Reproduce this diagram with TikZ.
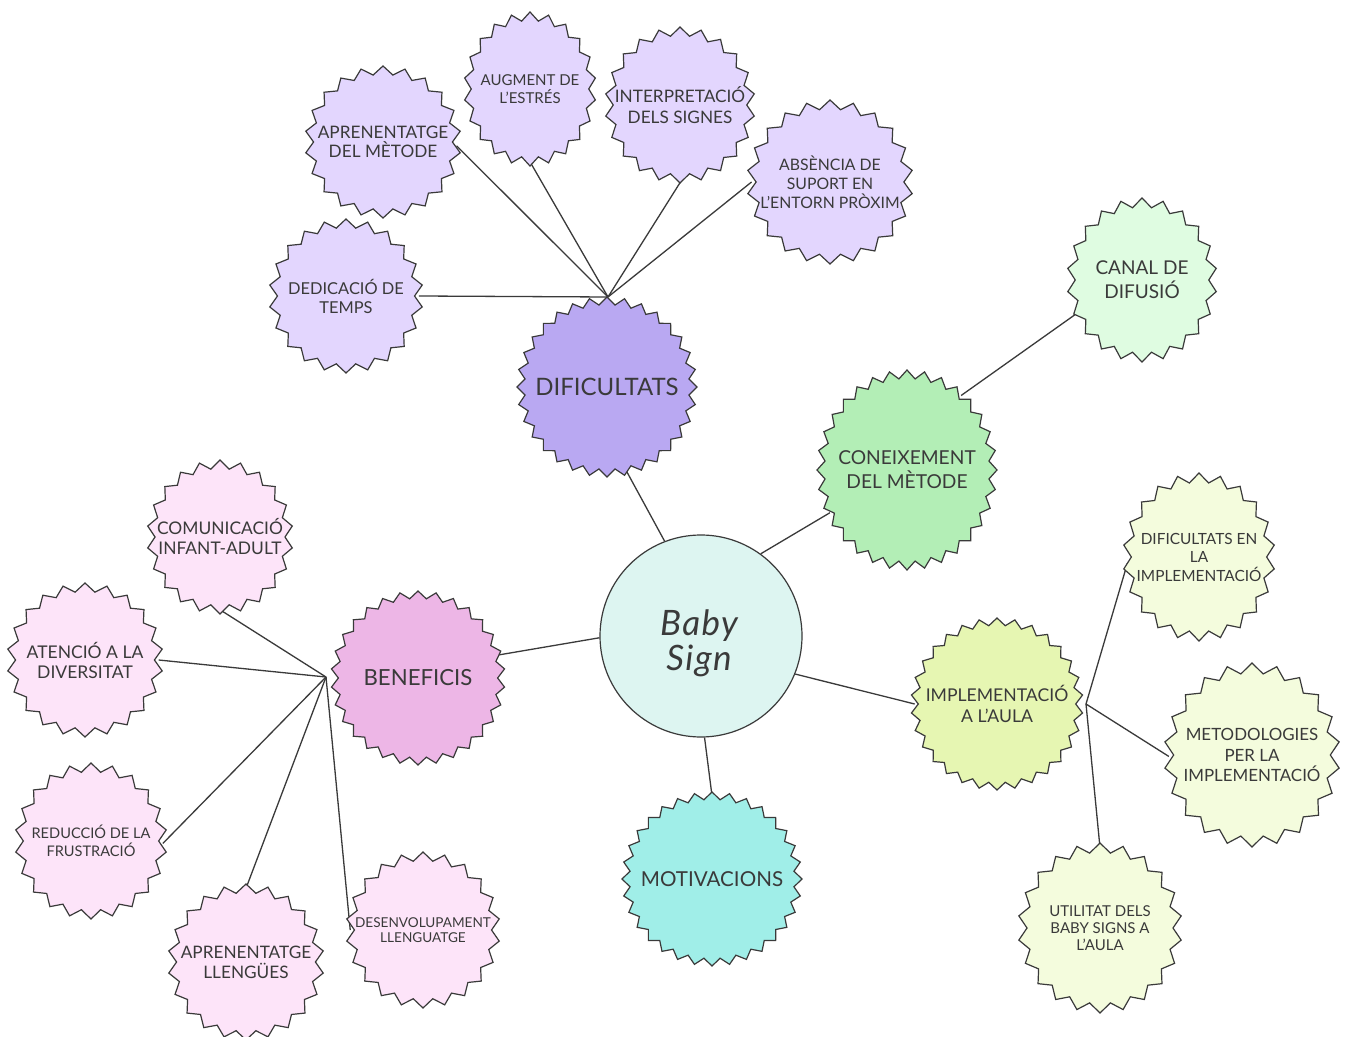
\documentclass[tikz,border=0pt]{standalone}
\usepackage{fontspec}
\setmainfont{Lato}
\usetikzlibrary{shapes.geometric}
\pgfdeclarelayer{bg}
\pgfsetlayers{bg,main}
\definecolor{purD}{HTML}{B9A8F2}
\definecolor{purL}{HTML}{E3D6FE}
\definecolor{grnD}{HTML}{B3EEB6}
\definecolor{grnL}{HTML}{DFFCE1}
\definecolor{yelD}{HTML}{E6F6B2}
\definecolor{yelL}{HTML}{F4FCDD}
\definecolor{cyaD}{HTML}{A0EEE8}
\definecolor{pnkD}{HTML}{EDB6E6}
\definecolor{pnkL}{HTML}{FDE4F9}
\definecolor{babyC}{HTML}{DDF5F1}
\definecolor{inkC}{HTML}{3A3A3A}
\tikzset{
  burstline/.style={draw=inkC, line width=0.6pt, line join=miter},
  hit/.style={ellipse, draw=none, inner sep=0pt, outer sep=0pt},
  lbl/.style={align=center, text=inkC, inner sep=0pt},
  conn/.style={draw=inkC, line width=0.65pt},
}
\newcommand\fsz[2]{\fontsize{#1}{#2}\selectfont}
\def\bd{0.1}
% name, cx, cy, rx, ry, n, fill, font, text
\newcommand\burst[9]{%
  \pgfmathtruncatemacro\bns{2*#6+1}%
  \pgfmathtruncatemacro\bnn{2*#6}%
  \filldraw[burstline, fill=#7] plot[samples=\bns, domain=0:\bnn, variable=\t]
    ({#2+#4*(1-\bd*mod(round(\t),2))*cos(\t*180/#6+90)},
     {#3+#5*(1-\bd*mod(round(\t),2))*sin(\t*180/#6+90)}) -- cycle;
  \node[hit, minimum width={#4*(1-\bd/2)*1pt}, minimum height={#5*(1-\bd/2)*1pt}] (#1) at (#2,#3) {};
  \node[lbl, font=#8] (#1t) at (#2,#3) {#9};
}
\begin{document}
\begin{tikzpicture}[x=0.5pt, y=-0.5pt]
\useasboundingbox (0,0) rectangle (1349,1037);
\clip (0,0) rectangle (1349,1037);
\begin{pgfonlayer}{bg}
\fill[white] (0,0) rectangle (1349,1037);
\end{pgfonlayer}

% ---- small bursts
\def\bd{0.11}
\burst{aprm}{383}{142}{78}{76}{22}{purL}{\fsz{8.6}{9.75}}{APRENENTATGE\\DEL MÈTODE}
\burst{aug}{530}{89}{66}{77}{22}{purL}{\fsz{7.5}{9}}{AUGMENT DE\\L’ESTRÉS}
\burst{interp}{680}{105}{75}{78}{22}{purL}{\fsz{8.6}{10.5}}{INTERPRETACIÓ\\DELS SIGNES}
\burst{abs}{830}{182}{83}{82}{22}{purL}{\fsz{7.9}{9.5}}{ABSÈNCIA DE\\SUPORT EN\\L’ENTORN PRÒXIM}
\burst{ded}{346}{296}{77}{77}{22}{purL}{\fsz{8.2}{9.5}}{DEDICACIÓ DE\\TEMPS}
\burst{canal}{1142}{280}{75}{82}{22}{grnL}{\fsz{9.5}{12}}{CANAL DE\\DIFUSIÓ}
\burst{dimp}{1199}{557}{76}{84}{22}{yelL}{\fsz{7.7}{9.25}}{DIFICULTATS EN\\LA\\IMPLEMENTACIÓ}
\burst{meto}{1252}{755}{88}{92}{22}{yelL}{\fsz{8.45}{10.25}}{METODOLOGIES\\PER LA\\IMPLEMENTACIÓ}
\burst{util}{1100}{928}{82}{85}{22}{yelL}{\fsz{7.5}{8.5}}{UTILITAT DELS\\BABY SIGNS A\\L’AULA}
\burst{com}{220}{537}{73}{77}{22}{pnkL}{\fsz{8.7}{10}}{COMUNICACIÓ\\INFANT-ADULT}
\burst{aten}{85}{660}{78}{77}{22}{pnkL}{\fsz{8.75}{10}}{ATENCIÓ A LA\\DIVERSITAT}
\burst{red}{91}{841}{76}{78}{22}{pnkL}{\fsz{7.3}{9}}{REDUCCIÓ DE LA\\FRUSTRACIÓ}
\burst{apl}{246}{962}{78}{78}{22}{pnkL}{\fsz{8.6}{10}}{APRENENTATGE\\LLENGÜES}
\burst{desv}{423}{930}{77}{78}{22}{pnkL}{\fsz{6.8}{7.5}}{DESENVOLUPAMENT\\LLENGUATGE}

% ---- big bursts
\def\bd{0.085}
\burst{dif}{607}{387}{90}{90}{32}{purD}{\fsz{12}{14}}{DIFICULTATS}
\burst{con}{907}{470}{90}{100}{32}{grnD}{\fsz{9.6}{12}}{CONEIXEMENT\\DEL MÈTODE}
\burst{impl}{997}{704}{86}{86}{30}{yelD}{\fsz{8.8}{10.5}}{IMPLEMENTACIÓ\\A L’AULA}
\burst{mot}{712}{879}{90}{87}{32}{cyaD}{\fsz{10.3}{13}}{MOTIVACIONS}
\burst{ben}{418}{678}{87}{87}{30}{pnkD}{\fsz{11.1}{13}}{BENEFICIS}

% ---- centre
\node[circle, draw=inkC, line width=0.6pt, fill=babyC, minimum size=101pt, inner sep=0pt] (baby) at (701,636) {};
\node[lbl, font={\itshape\fsz{17.5}{17.5}\addfontfeatures{LetterSpace=4}}] (babyt) at (699,643) {Baby\\Sign};

% ---- hubs
\coordinate (hubD) at (608,297);
\coordinate (hubB) at (326,677);
\coordinate (hubI) at (1086,704);

\begin{pgfonlayer}{bg}
\draw[conn] (hubD) -- (aprm.-3);
\draw[conn] (hubD) -- (aug.-90);
\draw[conn] (hubD) -- (interp.-88);
\draw[conn] (hubD) -- (abs.180);
\draw[conn] (hubD) -- (ded.0);
\draw[conn] (dif.-77) -- (baby.111);
\draw[conn] (baby.54) -- (con.209);
\draw[conn] (con.54) -- (canal.207);
\draw[conn] (baby.-22) -- (impl.180);
\draw[conn] (baby.-88) -- (mot.90);
\draw[conn] (baby.181) -- (ben.16);
\draw[conn] (hubI) -- (dimp.185);
\draw[conn] (hubI) -- (meto.181);
\draw[conn] (hubI) -- (util.90);
\draw[conn] (hubB) -- (com.-90);
\draw[conn] (hubB) -- (aten.0);
\draw[conn] (hubB) -- (red.-2);
\draw[conn] (hubB) -- (apl.90);
\draw[conn] (hubB) -- (desv.180);
\end{pgfonlayer}
\end{tikzpicture}
\end{document}
